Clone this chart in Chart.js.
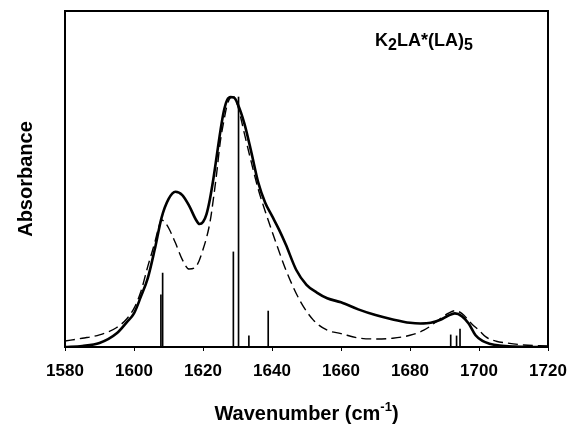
<!DOCTYPE html>
<html>
<head>
<meta charset="utf-8">
<script src="https://cdn.jsdelivr.net/npm/chart.js@4/dist/chart.umd.min.js"></script>
<style>
  body { margin: 0; background: #fff; }
</style>
</head>
<body>
<canvas id="myChart" width="571" height="426"></canvas>
<script>
// measured spectrum (solid)
const solidX = [1580, 1585, 1590, 1595, 1598, 1600, 1602, 1604, 1606, 1608, 1610, 1612, 1614, 1616, 1618, 1619, 1620, 1621, 1622, 1623, 1624, 1625, 1626, 1627, 1628, 1629, 1630, 1632, 1634, 1636, 1638, 1640, 1642, 1644, 1647, 1650, 1653, 1656, 1660, 1665, 1670, 1675, 1680, 1683, 1686, 1689, 1691, 1693, 1695, 1697, 1699, 1701, 1703, 1706, 1710, 1715, 1720];
const solidY = [0.0, 0.003, 0.012, 0.041, 0.075, 0.10, 0.15, 0.205, 0.29, 0.385, 0.44, 0.462, 0.452, 0.42, 0.378, 0.366, 0.372, 0.395, 0.44, 0.50, 0.57, 0.64, 0.70, 0.735, 0.744, 0.742, 0.725, 0.665, 0.58, 0.49, 0.43, 0.39, 0.35, 0.305, 0.23, 0.185, 0.162, 0.145, 0.133, 0.112, 0.095, 0.082, 0.072, 0.07, 0.072, 0.082, 0.093, 0.10, 0.092, 0.07, 0.035, 0.018, 0.01, 0.004, 0.001, 0.0, 0.0];

// calculated spectrum (dashed)
const dashX = [1580, 1585, 1590, 1595, 1598, 1600, 1602, 1604, 1606, 1607, 1608, 1609, 1610, 1612, 1614, 1616, 1618, 1620, 1622, 1623, 1624, 1625, 1626, 1627, 1628, 1629, 1630, 1631, 1632, 1634, 1636, 1638, 1641, 1644, 1648, 1652, 1656, 1660, 1665, 1670, 1675, 1680, 1684, 1688, 1691, 1693, 1695, 1698, 1700, 1702, 1705, 1708, 1713, 1720];
const dashY = [0.018, 0.026, 0.036, 0.058, 0.085, 0.115, 0.165, 0.24, 0.31, 0.35, 0.378, 0.37, 0.355, 0.31, 0.26, 0.232, 0.24, 0.29, 0.37, 0.44, 0.52, 0.61, 0.67, 0.72, 0.742, 0.744, 0.72, 0.68, 0.635, 0.55, 0.47, 0.405, 0.315, 0.23, 0.14, 0.08, 0.05, 0.04, 0.027, 0.024, 0.026, 0.035, 0.05, 0.078, 0.1, 0.108, 0.1, 0.068, 0.05, 0.03, 0.017, 0.012, 0.006, 0.003];

// computed mode positions / intensities (sticks)
const stickX = [1607.8, 1608.3, 1628.8, 1630.3, 1633.3, 1638.9, 1691.8, 1693.5, 1694.5];
const stickY = [0.155, 0.22, 0.283, 0.744, 0.033, 0.107, 0.036, 0.033, 0.053];

const xMin = 1580, xMax = 1720, xStep = 20;
const FONT = 'Arial, "Liberation Sans", sans-serif';

const toPts = (xs, ys) => xs.map((x, i) => ({ x: x, y: ys[i] }));

const frame = {
    id: 'frame',
    beforeDraw(chart) {
        const ctx = chart.ctx;
        ctx.save();
        ctx.fillStyle = '#fff';
        ctx.fillRect(0, 0, chart.width, chart.height);
        ctx.restore();
    },
    afterDraw(chart) {
        const { ctx, chartArea: a } = chart;
        const w = a.right - a.left, h = a.bottom - a.top;
        ctx.save();
        ctx.strokeStyle = '#000';
        ctx.lineWidth = 2;
        ctx.strokeRect(a.left, a.top, w, h);

        ctx.fillStyle = '#000';
        ctx.textBaseline = 'alphabetic';
        ctx.textAlign = 'left';

        // compound label, top right
        let x = a.left + w * 0.642;
        const y = a.top + 35;
        const parts = [['K', 0, 18], ['2', 4, 16], ['LA*(LA)', 0, 18], ['5', 4, 16]];
        parts.forEach(p => {
            ctx.font = 'bold ' + p[2] + 'px ' + FONT;
            ctx.fillText(p[0], x, y + p[1]);
            x += ctx.measureText(p[0]).width;
        });

        // x title with superscript
        const big = 'bold 20px ' + FONT, small = 'bold 13px ' + FONT;
        ctx.font = big;
        const t1 = 'Wavenumber (cm', t3 = ')';
        const w1 = ctx.measureText(t1).width, w3 = ctx.measureText(t3).width;
        ctx.font = small;
        const t2 = '-1', w2 = ctx.measureText(t2).width;
        let tx = (a.left + a.right) / 2 - (w1 + w2 + w3) / 2;
        const ty = 420;
        ctx.font = big;
        ctx.fillText(t1, tx, ty);
        tx += w1;
        ctx.font = small;
        ctx.fillText(t2, tx, ty - 9);
        tx += w2;
        ctx.font = big;
        ctx.fillText(t3, tx, ty);

        // y title
        ctx.save();
        ctx.translate(32, (a.top + a.bottom) / 2);
        ctx.rotate(-Math.PI / 2);
        ctx.textAlign = 'center';
        ctx.font = big;
        ctx.fillText('Absorbance', 0, 0);
        ctx.restore();

        ctx.restore();
    }
};

const ctx = document.getElementById('myChart').getContext('2d');
const myChart = new Chart(ctx, {
    type: 'line',
    data: {
        datasets: [{
            label: 'Measured',
            data: toPts(solidX, solidY),
            borderColor: '#000',
            borderWidth: 2.6,
            pointRadius: 0,
            fill: false,
            cubicInterpolationMode: 'monotone'
        }, {
            label: 'Calculated',
            data: toPts(dashX, dashY),
            borderColor: '#000',
            borderWidth: 1.4,
            borderDash: [10, 5],
            pointRadius: 0,
            fill: false,
            cubicInterpolationMode: 'monotone'
        }, {
            type: 'bar',
            label: 'Modes',
            data: toPts(stickX, stickY),
            backgroundColor: '#000',
            borderWidth: 0,
            barThickness: 1,
            grouped: false
        }]
    },
    options: {
        responsive: false,
        animation: false,
        devicePixelRatio: 1,
        layout: { padding: { top: 11, right: 23, left: 0, bottom: 0 } },
        plugins: { legend: { display: false }, tooltip: { enabled: false } },
        scales: {
            x: {
                type: 'linear',
                min: xMin,
                max: xMax,
                offset: false,
                border: { display: false },
                grid: { display: true, drawOnChartArea: false, drawTicks: true, tickLength: 4, color: '#000', offset: false },
                ticks: {
                    stepSize: xStep,
                    padding: 10,
                    color: '#000',
                    font: { family: FONT, size: 17, weight: 'bold' },
                    callback: v => String(v)
                },
                afterFit: s => { s.height = 79; s.paddingRight = 0; s.paddingLeft = 0; }
            },
            y: {
                min: 0,
                max: 1,
                border: { display: false },
                grid: { display: false },
                ticks: { display: false },
                afterFit: s => { s.width = 65; s.paddingTop = 0; s.paddingBottom = 0; }
            }
        }
    },
    plugins: [frame]
});
</script>
</body>
</html>
